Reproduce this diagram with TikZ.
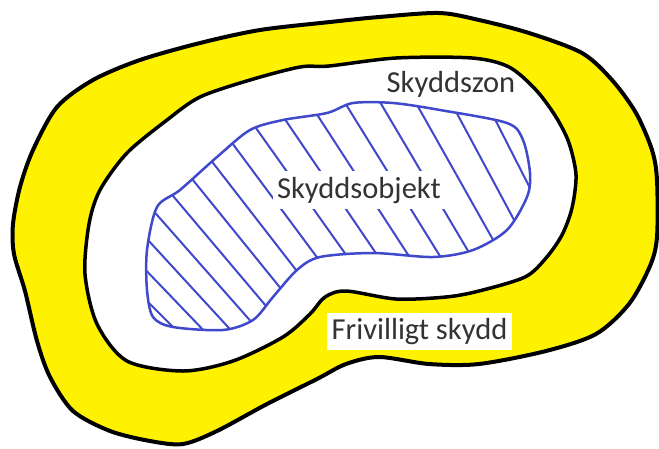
\documentclass[tikz,border=0pt]{standalone}
\usepackage{fontspec}
\setmainfont{Carlito}
\usetikzlibrary{calc}
\definecolor{gul}{HTML}{FFF200}
\definecolor{blue}{HTML}{4048CC}
\definecolor{text}{HTML}{333333}

\tikzset{
  zonline/.style={draw=black,line width=4pt,line join=round},
  objline/.style={draw=blue,line width=2.5pt,line join=round},
  hatch/.style={draw=blue,line width=2pt},
  label/.style={text=text,font=\fontsize{30.5}{36}\selectfont,inner sep=0pt}
}

\begin{document}
\begin{tikzpicture}[x=1pt,y=-1pt]
\useasboundingbox (0,0) rectangle (659,448);
% frivilligt skydd (outer)
\draw[zonline,fill=gul] plot[smooth cycle] coordinates {
  (13,224) (20,187) (33,150) (57,107) (93,80) (140,60) (200,43) (260,30)
  (330,22) (379,17) (439,13) (479,20) (529,33) (582,53) (612,80) (636,113)
  (652,150) (657,180) (657,237) (650,266) (629,304) (596,334) (546,351)
  (479,364) (429,364) (379,357) (346,364) (317,379) (267,404) (217,431)
  (183,444) (150,441) (110,431) (73,411) (50,377) (37,341) (25,291) (14,254)};
% skyddszon
\draw[zonline,line width=3.5pt,fill=white] plot[smooth cycle] coordinates {
  (89,224) (100,190) (127,153) (167,120) (200,97) (250,80) (300,67)
  (329,66) (396,58) (472,58) (509,67) (536,90) (556,117) (569,143)
  (576,175) (572,208) (562,235) (546,258) (525,277) (479,291) (446,297)
  (396,299) (346,291) (325,297) (310,314) (283,337) (233,361) (183,371)
  (127,361) (97,324) (85,274)};
% skyddsobjekt
\begin{scope}
  \clip plot[smooth cycle] coordinates {
    (157,207) (180,190) (217,157) (250,130) (283,120) (327,113) (353,103)
    (393,103) (440,110) (507,123) (523,140) (530,173) (527,197) (507,230)
    (473,250) (433,257) (373,253) (320,257) (297,270) (273,297) (253,320)
    (223,330) (173,327) (153,317) (147,290) (147,250)};
  \foreach \k in {0,...,15}{
    \pgfmathsetmacro\xk{36+33*\k}
    \pgfmathsetmacro\ang{45+1.2*\k}
    \pgfmathsetmacro\dx{220/tan(\ang)}
    \draw[hatch] (\xk-\dx,-30) -- (\xk+\dx,410);
  }
\end{scope}
\draw[objline] plot[smooth cycle] coordinates {
  (157,207) (180,190) (217,157) (250,130) (283,120) (327,113) (353,103)
  (393,103) (440,110) (507,123) (523,140) (530,173) (527,197) (507,230)
  (473,250) (433,257) (373,253) (320,257) (297,270) (273,297) (253,320)
  (223,330) (173,327) (153,317) (147,290) (147,250)};

\node[label,anchor=base] (zon) at (451,92) {Skyddszon};
\node[label,anchor=base,fill=white,inner xsep=4pt,inner ysep=6pt] (objekt) at (359,198) {Skyddsobjekt};
\node[label,fill=white,minimum width=185pt,minimum height=37pt] (frivillig) at (419.5,331.5) {Frivilligt skydd};
\end{tikzpicture}
\end{document}
